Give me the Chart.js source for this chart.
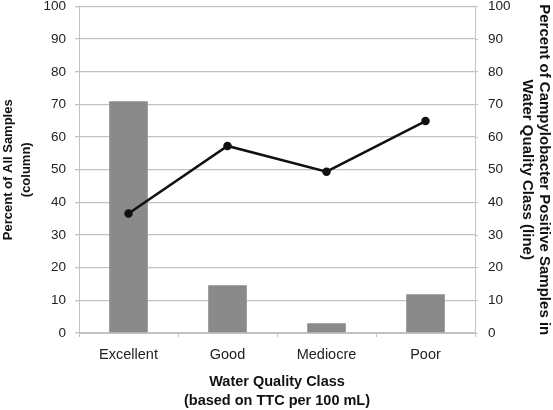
<!DOCTYPE html>
<html>
<head>
<meta charset="utf-8">
<script src="https://cdn.jsdelivr.net/npm/chart.js@4"></script>
<style>
  html, body { margin: 0; padding: 0; background: #fff; }
  #wrap { width: 553px; height: 410px; }
</style>
</head>
<body>
<div id="wrap"><canvas id="diagram"></canvas></div>
<script>
        const osztalyok = ['Excellent', 'Good', 'Mediocre', 'Poor'];
        const mintakSzazalek = [71, 14.6, 3, 11.9];
        const campyloSzazalek = [36.6, 57.3, 49.4, 64.9];
        const tengelyMin = 0;
        const tengelyMax = 100;
        const tengelyLepes = 10;

        const racsSzin = '#c2c2c2';
        const betu = 'Liberation Sans, Arial, sans-serif';

        const ctx = document.getElementById('diagram').getContext('2d');

        new Chart(ctx, {
            data: {
                labels: osztalyok,
                datasets: [{
                    type: 'line',
                    label: 'Campylobacter positive',
                    data: campyloSzazalek,
                    yAxisID: 'y1',
                    borderColor: '#111',
                    backgroundColor: '#111',
                    borderWidth: 2.5,
                    pointRadius: 3,
                    pointStyle: 'circle',
                    tension: 0,
                    order: 0
                }, {
                    type: 'bar',
                    label: 'All samples',
                    data: mintakSzazalek,
                    yAxisID: 'y',
                    backgroundColor: '#8a8a8a',
                    categoryPercentage: 1,
                    barPercentage: 0.39,
                    order: 1
                }]
            },
            options: {
                responsive: true,
                maintainAspectRatio: false,
                animation: false,
                layout: { padding: { top: 5, left: 0, right: 0, bottom: 0 } },
                plugins: {
                    legend: { display: false },
                    tooltip: { enabled: false }
                },
                scales: {
                    x: {
                        grid: {
                            offset: true,
                            drawOnChartArea: false,
                            color: racsSzin,
                            tickLength: 4
                        },
                        border: { color: racsSzin },
                        ticks: {
                            color: '#222',
                            font: { family: betu, size: 14.5 },
                            padding: 9
                        },
                        title: {
                            display: true,
                            text: ['Water Quality Class', '(based on TTC per 100 mL)'],
                            color: '#111',
                            font: { family: betu, size: 14.5, weight: 'bold', lineHeight: 1.3 },
                            padding: { top: 0, bottom: 0 }
                        },
                        afterFit: function(skala) {
                            skala.height = 77;
                        }
                    },
                    y: {
                        position: 'left',
                        min: tengelyMin,
                        max: tengelyMax,
                        grid: { color: racsSzin, lineWidth: 1.3, tickLength: 4 },
                        border: { color: racsSzin },
                        ticks: {
                            stepSize: tengelyLepes,
                            color: '#222',
                            font: { family: betu, size: 13.5 },
                            padding: 9
                        },
                        title: {
                            display: true,
                            text: ['Percent of All Samples', '(column)'],
                            color: '#111',
                            font: { family: betu, size: 13, weight: 'bold', lineHeight: 1.35 },
                            padding: { top: 0, bottom: 0 }
                        },
                        afterFit: function(skala) {
                            skala.width = 79;
                            skala.paddingTop = 0;
                            skala.paddingBottom = 0;
                        }
                    },
                    y1: {
                        position: 'right',
                        min: tengelyMin,
                        max: tengelyMax,
                        grid: { drawOnChartArea: false, color: racsSzin, tickLength: 3 },
                        border: { color: racsSzin },
                        ticks: {
                            stepSize: tengelyLepes,
                            color: '#222',
                            font: { family: betu, size: 13.5 },
                            padding: 10
                        },
                        title: {
                            display: true,
                            text: ['Percent of Campylobacter Positive Samples in', 'Water Quality Class (line)'],
                            color: '#111',
                            font: { family: betu, size: 15, weight: 'bold', lineHeight: 1.15 },
                            padding: { top: 0, bottom: 0 }
                        },
                        afterFit: function(skala) {
                            skala.width = 78;
                            skala.paddingTop = 0;
                            skala.paddingBottom = 0;
                        }
                    }
                }
            }
        });
</script>
</body>
</html>
